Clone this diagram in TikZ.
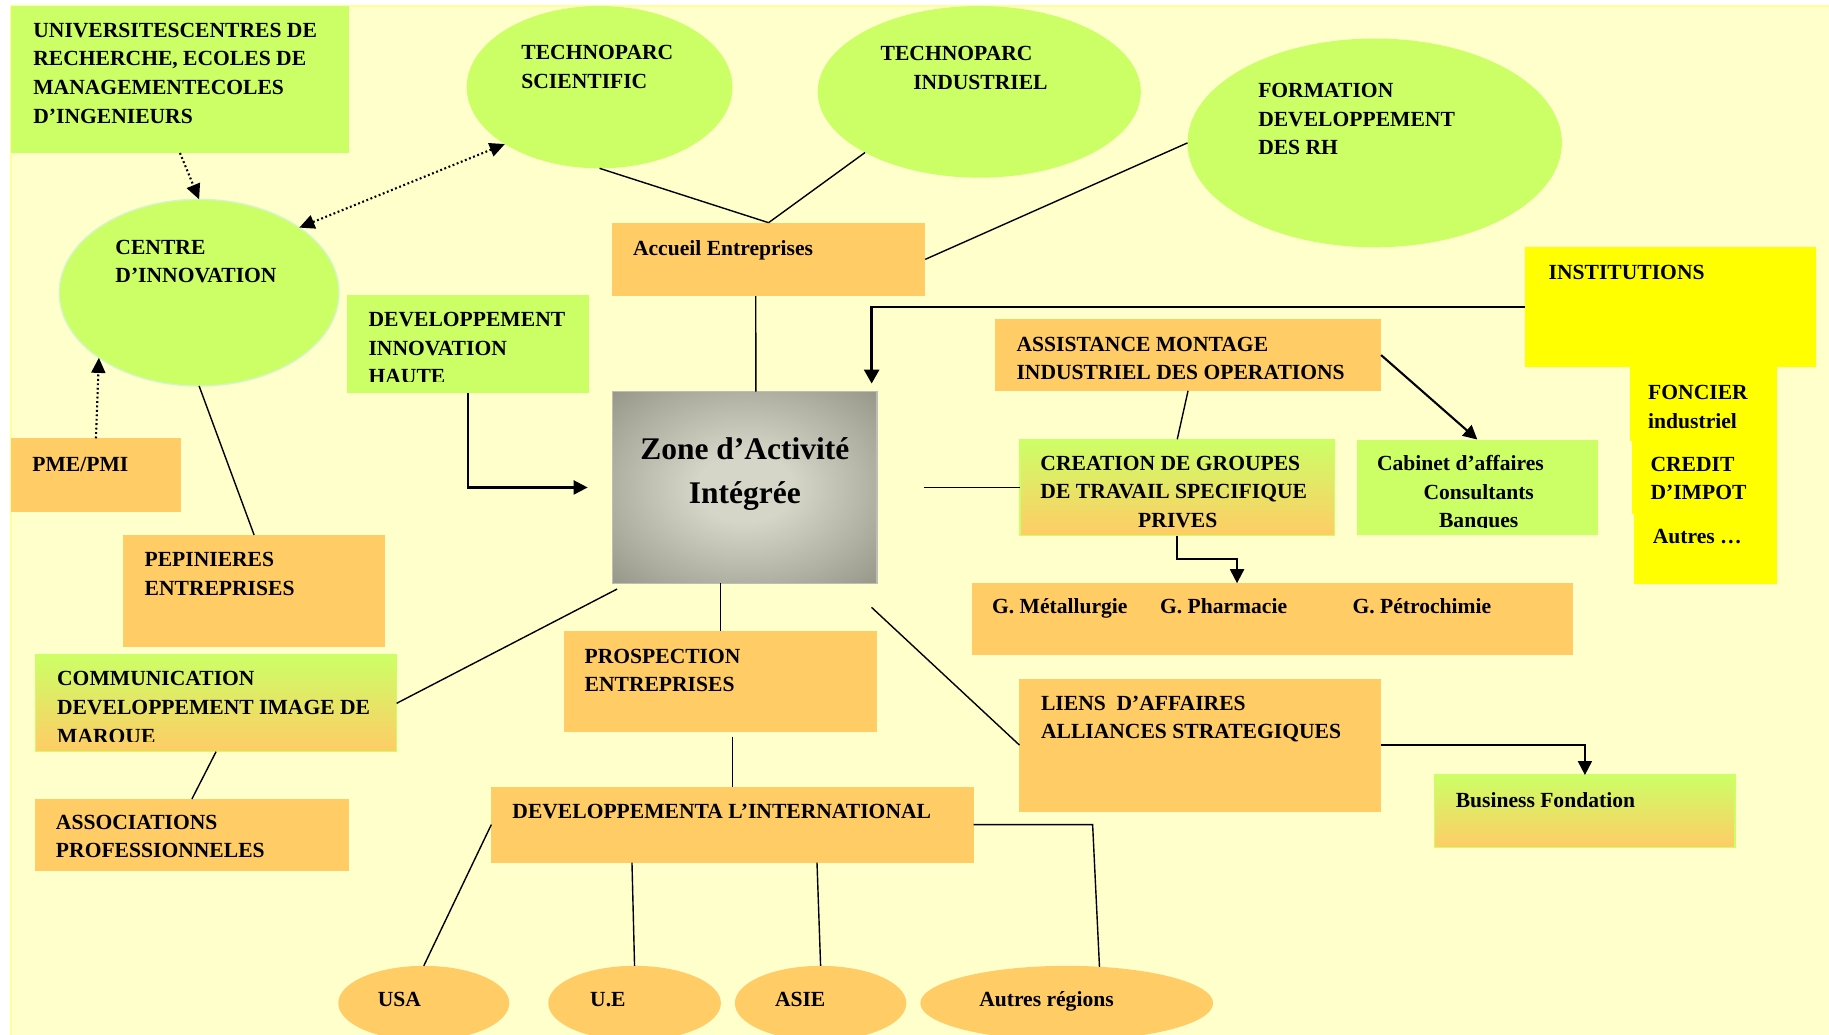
\documentclass[tikz,border=0pt]{standalone}
\usepackage{fontspec}
\setmainfont{Liberation Serif}
\usetikzlibrary{shapes.geometric,arrows.meta,calc,fit}
\definecolor{cbg}{HTML}{FFFFCC}
\definecolor{cbgedge}{HTML}{FFFF99}
\definecolor{cgreen}{HTML}{CCFF66}
\definecolor{corange}{HTML}{FFCC66}
\definecolor{cyel}{HTML}{FFFF00}
\definecolor{zin}{HTML}{D6D6C8}
\definecolor{zout}{HTML}{87877A}
\definecolor{zedge}{HTML}{BDBDB3}
\definecolor{cring}{HTML}{D5F5C8}
\pgfdeclareradialshading{zoneshade}{\pgfpoint{0bp}{0bp}}{color(0bp)=(zin); color(9bp)=(zin); color(42bp)=(zout); color(60bp)=(zout)}
\newcommand{\txtfont}{\fontsize{18.5}{24.5}\selectfont\bfseries}
\newcommand{\zonefont}{\fontsize{27}{37.5}\selectfont\bfseries}
\newcommand{\leftlines}[1]{\begin{tabular}[t]{@{}l@{}}#1\end{tabular}}
\newcommand{\centerlines}[1]{\begin{tabular}[t]{@{}c@{}}#1\end{tabular}}
\begin{document}
\begin{tikzpicture}[x=1pt,y=-1pt,
  every node/.style={inner sep=0pt, outer sep=0pt},
  gbox/.style={fill=cgreen},
  obox/.style={fill=corange},
  ybox/.style={fill=cyel},
  gobox/.style={top color=cgreen, bottom color=corange, draw=cgreen, line width=1.2pt},
  gell/.style={ellipse, fill=cgreen},
  oell/.style={ellipse, fill=corange},
  txt/.style={font=\txtfont, anchor=base west},
  conn/.style={line width=1.2pt},
  arr/.style={line width=1.8pt, -{Triangle[length=12pt,width=12pt]}},
  arrthick/.style={line width=2.2pt, -{Triangle[length=12pt,width=13pt]}},
  dotarr/.style={line width=1.8pt, dash pattern=on 1.6pt off 2.2pt, -{Triangle[length=13pt,width=12pt]}},
  dotarrb/.style={line width=1.8pt, dash pattern=on 1.6pt off 2.2pt, {Triangle[length=13pt,width=12pt]}-{Triangle[length=13pt,width=12pt]}}]
\useasboundingbox (0,0) rectangle (1568,887);
\fill[white] (0,0) rectangle (1568,887);
\draw[fill=cbg, draw=cbgedge, line width=1pt] (9.5,5.1) rectangle (1575,895);

% ---------- shapes ----------
\node[gbox, fit={(9.4,5.1) (299.2,131.2)}] (univ) {};
\node[gell, minimum width=227.8pt, minimum height=139.2pt] (ts) at (514,74.7) {};
\node[gell, minimum width=277pt, minimum height=147.2pt] (ti) at (839.5,78.7) {};
\node[gell, minimum width=321pt, minimum height=179pt] (fo) at (1178.5,122.5) {};
\node[gell, draw=cring, line width=1.2pt, minimum width=239.8pt, minimum height=160pt] (ci) at (170.7,250.9) {};
\node[obox, fit={(524.6,190.9) (793.2,253.8)}] (acc) {};
\node[gbox, fit={(297.8,253) (505,336.6)}] (devi) {};
\node[fit={(525.2,335.8) (751.8,500)}, shading=zoneshade, draw=zedge, line width=1.2pt] (zone) {};
\node[ybox, fit={(1307,211.5) (1557,314.7)}] (inst) {};
\node[ybox, fit={(1397.4,314) (1523,377.7)}] (fon) {};
\node[ybox, fit={(1399,377) (1523,440.5)}] (cred) {};
\node[ybox, fit={(1400.6,440) (1523,501)}] (autr) {};
\node[obox, fit={(853,273.8) (1184,335)}] (as) {};
\node[gobox, fit={(874.3,376.6) (1144.2,459.2)}] (cr) {};
\node[gbox, fit={(1163,376.8) (1370,458.8)}] (cab) {};
\node[obox, fit={(833,500) (1348.3,561.2)}] (g) {};
\node[obox, fit={(874,581.8) (1184.2,695.8)}] (li) {};
\node[gobox, fit={(1230,664.4) (1487.5,726.7)}] (biz) {};
\node[obox, fit={(9.5,375.8) (155,439)}] (pme) {};
\node[obox, fit={(105.7,458.6) (330,554.4)}] (pep) {};
\node[gobox, fit={(30.5,561.5) (340,644.4)}] (comm) {};
\node[obox, fit={(30,685) (299,747)}] (assoc) {};
\node[obox, fit={(483.2,541) (751.9,627.8)}] (pr) {};
\node[obox, fit={(421.2,674.4) (834.6,739.5)}] (dev) {};
\node[oell, minimum width=146.6pt, minimum height=64pt] (usa) at (363.3,860) {};
\node[oell, minimum width=148pt, minimum height=64pt] (ue) at (544,860) {};
\node[oell, minimum width=147pt, minimum height=64pt] (asie) at (703.5,860) {};
\node[oell, minimum width=251pt, minimum height=64pt] (ar) at (914.5,860) {};

% ---------- texts ----------
\node[txt] (univ-t) at (28.6,32) {\leftlines{UNIVERSITESCENTRES DE\\RECHERCHE, ECOLES DE\\MANAGEMENTECOLES\\D’INGENIEURS}};
\node[txt] (ts-t) at (447,51) {\leftlines{TECHNOPARC\\SCIENTIFIC}};
\node[txt] (ti-t) at (755,52) {\leftlines{TECHNOPARC\\\hspace*{28pt}INDUSTRIEL}};
\node[txt] (fo-t) at (1078.7,83.8) {\leftlines{FORMATION\\DEVELOPPEMENT\\DES RH}};
\node[txt] (ci-t) at (99,218) {\leftlines{CENTRE\\D’INNOVATION}};
\node[txt] (acc-t) at (542.7,219) {Accueil Entreprises};
\begin{scope}
  \clip (290,250) rectangle (510,326.8);
  \node[txt] (devi-t) at (316,280) {\leftlines{DEVELOPPEMENT\\INNOVATION\\HAUTE}};
\end{scope}
\node[font=\zonefont, anchor=base] (zone-t) at (638.5,394) {\centerlines{Zone d’Activité\\Intégrée}};
\node[txt] (inst-t) at (1327.7,239.8) {INSTITUTIONS};
\node[txt] (fon-t) at (1413,342.6) {\leftlines{FONCIER\\industriel}};
\node[txt] (cred-t) at (1415,404) {\leftlines{CREDIT\\D’IMPOT}};
\node[txt] (autr-t) at (1417,465.8) {Autres …};
\node[txt] (as-t) at (871.5,301) {\leftlines{ASSISTANCE MONTAGE\\INDUSTRIEL DES OPERATIONS}};
\node[txt] (cr-t) at (892,403) {\leftlines{CREATION DE GROUPES\\DE TRAVAIL SPECIFIQUE\\\hspace*{83.8pt}PRIVES}};
\begin{scope}
  \clip (1160,370) rectangle (1375,451.8);
  \node[txt] (cab-t) at (1180.5,403.4) {\leftlines{Cabinet d’affaires\\\hspace*{39.9pt}Consultants\\\hspace*{53.2pt}Banques}};
\end{scope}
\node[txt] (pme-t) at (27.8,404) {PME/PMI};
\node[txt] (pep-t) at (124,486) {\leftlines{PEPINIERES\\ENTREPRISES}};
\node[txt] (g1-t) at (850.5,525.8) {G. Métallurgie};
\node[txt] (g2-t) at (994.5,526.2) {G. Pharmacie};
\node[txt] (g3-t) at (1159.6,525.7) {G. Pétrochimie};
\begin{scope}
  \clip (25,555) rectangle (345,635.6);
  \node[txt] (comm-t) at (49,588) {\leftlines{COMMUNICATION\\DEVELOPPEMENT IMAGE DE\\MARQUE}};
\end{scope}
\node[txt] (pr-t) at (501.2,568.7) {\leftlines{PROSPECTION\\ENTREPRISES}};
\node[txt] (li-t) at (892.5,608.7) {\leftlines{LIENS\ \ D’AFFAIRES\\ALLIANCES STRATEGIQUES}};
\node[txt] (biz-t) at (1248,692) {Business Fondation};
\node[txt] (assoc-t) at (48,711) {\leftlines{ASSOCIATIONS\\PROFESSIONNELES}};
\node[txt] (dev-t) at (439.3,702) {DEVELOPPEMENTA L’INTERNATIONAL};
\node[txt] (usa-t) at (323.9,862.5) {USA};
\node[txt] (ue-t) at (506,862.8) {U.E};
\node[txt] (asie-t) at (664.4,862.8) {ASIE};
\node[txt] (ar-t) at (839.5,862.8) {Autres régions};

% ---------- connectors ----------
\draw[dotarr] (univ.south) -- (ci.north);
\draw[dotarrb] (ts.211) -- (ci.33.6);
\draw[dotarr] (pme.north) -- (ci.213.8);
\draw[conn] (ci.south) -- (pep.north);
\draw[conn] (ts.south) -- (acc.north);
\draw[conn] (ti.208) -- (acc.north);
\draw[conn] (fo.west) -- (acc.east);
\draw[conn] ($(acc.south west)!0.459!(acc.south east)$) -- ($(zone.north west)!0.542!(zone.north east)$);
\draw[arrthick, shorten >=7pt] (inst.west) -| ($(zone.north west)!0.98!(zone.north east)$);
\draw[arr, shorten >=21.4pt] (devi.south) |- (zone.west);
\draw[conn, shorten <=40pt] (zone.east) -- (cr.west);
\draw[conn] (as.south) -- (cr.north);
\draw[arr] (as.east) -- (cab.north);
\draw[arr] (cr.south) -- ++(0,20.4) -| ($(g.north west)!0.4415!(g.north east)$);
\coordinate (zl) at (747.2,520.7);
\draw[conn] (zl) -- (li.west);
\draw[arr] (li.east) -| (biz.north);
\draw[conn] (zone.south -| pr.north) -- (pr.north);
\coordinate (zc) at (529,505);
\draw[conn] (zc) -- (comm.east);
\draw[conn] (comm.south) -- (assoc.north);
\draw[conn, shorten <=3.7pt] (pr.south -| dev.north) -- (dev.north);
\draw[conn] (dev.west) -- (usa.north);
\draw[conn] ($(dev.south west)!0.2917!(dev.south east)$) -- (ue.north);
\draw[conn] ($(dev.south west)!0.6754!(dev.south east)$) -- (asie.north);
\draw[conn] (dev.east) -- ++(102.1,0) -- (ar.48.9);
\end{tikzpicture}
\end{document}
